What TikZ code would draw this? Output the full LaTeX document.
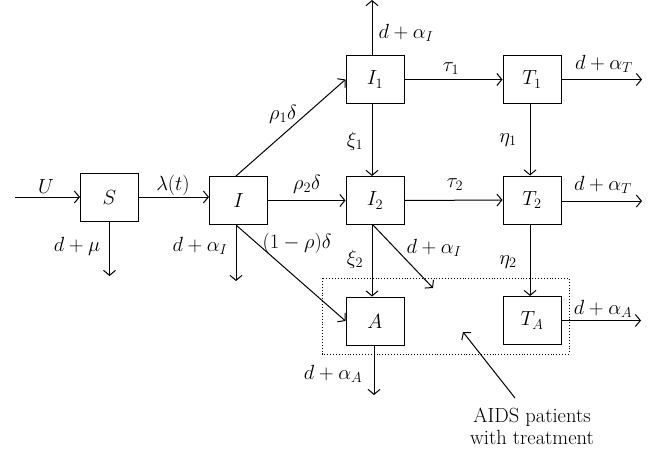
\RequirePackage{fix-cm}
\documentclass[tikz,border=0pt]{standalone}
\usetikzlibrary{arrows.meta}
\begin{document}
\begin{tikzpicture}[x=1pt, y=-1pt,
  font=\fontsize{20.5}{23}\selectfont,
  box/.style={draw, line width=1pt, minimum width=58pt, minimum height=48pt, inner sep=0pt},
  flow/.style={line width=1pt, -{Straight Barb[length=5pt,width=12pt,line width=1pt]}},
  lbl/.style={inner sep=0pt}]
\useasboundingbox (0,0) rectangle (658,450);

% compartments
\node[box] (S)  at (109.5,197) {$S$};
\node[box] (I)  at (238.5,200.5) {$I$};
\node[box] (I1) at (375,79.5)  {$I_1$};
\node[box] (I2) at (375,200.5) {$I_2$};
\node[box] (A)  at (375,321)   {$A$};
\node[box] (T1) at (532,79.5)  {$T_1$};
\node[box] (T2) at (532,200)   {$T_2$};
\node[box] (TA) at (532,320.5) {$T_A$};

% loose ends of inflow / outflow arrows
\coordinate (in)    at (15,197);
\coordinate (outS)  at (109.5,276);
\coordinate (outI)  at (236,281);
\coordinate (outI1) at (372,0);
\coordinate (outI2) at (433,288);
\coordinate (outT1) at (642,79.5);
\coordinate (outT2) at (642,201);
\coordinate (outTA) at (641,320.5);
\coordinate (outA)  at (374,395);
\coordinate (tail)  at (515,398);
\coordinate (head)  at (463,332);

% AIDS group
\draw[dotted, line width=0.9pt] (322,278) rectangle (569,354);

% flows
\draw[flow] (in) -- (S.west |- in);
\draw[flow] (S.east) -- (S.east -| I.west);
\draw[flow] (S.south) -- (outS);
\draw[flow] (I.south -| outI) -- (outI);
\draw[flow] (I.south -| outI) -- (A.west);
\draw[flow] (I.north -| outI) -- (I1.west);
\draw[flow] (I.east) -- (I2.west);
\draw[flow] (I1.north -| outI1) -- (outI1);
\draw[flow] (I1.east) -- (T1.west);
\draw[flow] ([xshift=-3pt]I1.south) -- ([xshift=-3pt]I2.north);
\draw[flow] (T1.east) -- (outT1);
\draw[flow] ([xshift=-2pt]T1.south) -- ([xshift=-2pt]T2.north);
\draw[flow] (I2.east) -- (T2.west);
\draw[flow] (T2.east |- outT2) -- (outT2);
\draw[flow] ([xshift=-3pt]I2.south) -- ([xshift=-3pt]A.north);
\draw[flow] ([xshift=-2pt]I2.south) -- (outI2);
\draw[flow] ([xshift=-2pt]T2.south) -- ([xshift=-2pt]TA.north);
\draw[flow] (TA.east) -- (outTA);
\draw[flow] (A.south -| outA) -- (outA);
\draw[flow] (tail) -- (head);

% rates
\node[lbl] (lU)   at (46,186)  {$U$};
\node[lbl] (llam) at (173,185) {$\lambda(t)$};
\node[lbl] (lmu)  at (77,246)  {$d+\mu$};
\node[lbl] (laI)  at (200,246) {$d+\alpha_I$};
\node[lbl] (lrho) at (297,243) {$(1-\rho)\delta$};
\node[lbl] (lr1)  at (283,114) {$\rho_1\delta$};
\node[lbl] (lr2)  at (307,184) {$\rho_2\delta$};
\node[lbl] (laI1) at (406,33)  {$d+\alpha_I$};
\node[lbl] (lt1)  at (451,69)  {$\tau_1$};
\node[lbl] (lx1)  at (355,141) {$\xi_1$};
\node[lbl] (laT1) at (604,64)  {$d+\alpha_T$};
\node[lbl] (le1)  at (508,140) {$\eta_1$};
\node[lbl] (lt2)  at (455,185) {$\tau_2$};
\node[lbl] (laT2) at (603,185) {$d+\alpha_T$};
\node[lbl] (lx2)  at (355,259) {$\xi_2$};
\node[lbl] (laI2) at (434,248) {$d+\alpha_I$};
\node[lbl] (le2)  at (508,262) {$\eta_2$};
\node[lbl] (laTA) at (603,309) {$d+\alpha_A$};
\node[lbl] (laA)  at (333,374) {$d+\alpha_A$};
\node[lbl, align=center, anchor=north, font=\fontsize{20.5}{21.5}\selectfont] (note) at (532,408) {AIDS patients\\with treatment};
\end{tikzpicture}
\end{document}
